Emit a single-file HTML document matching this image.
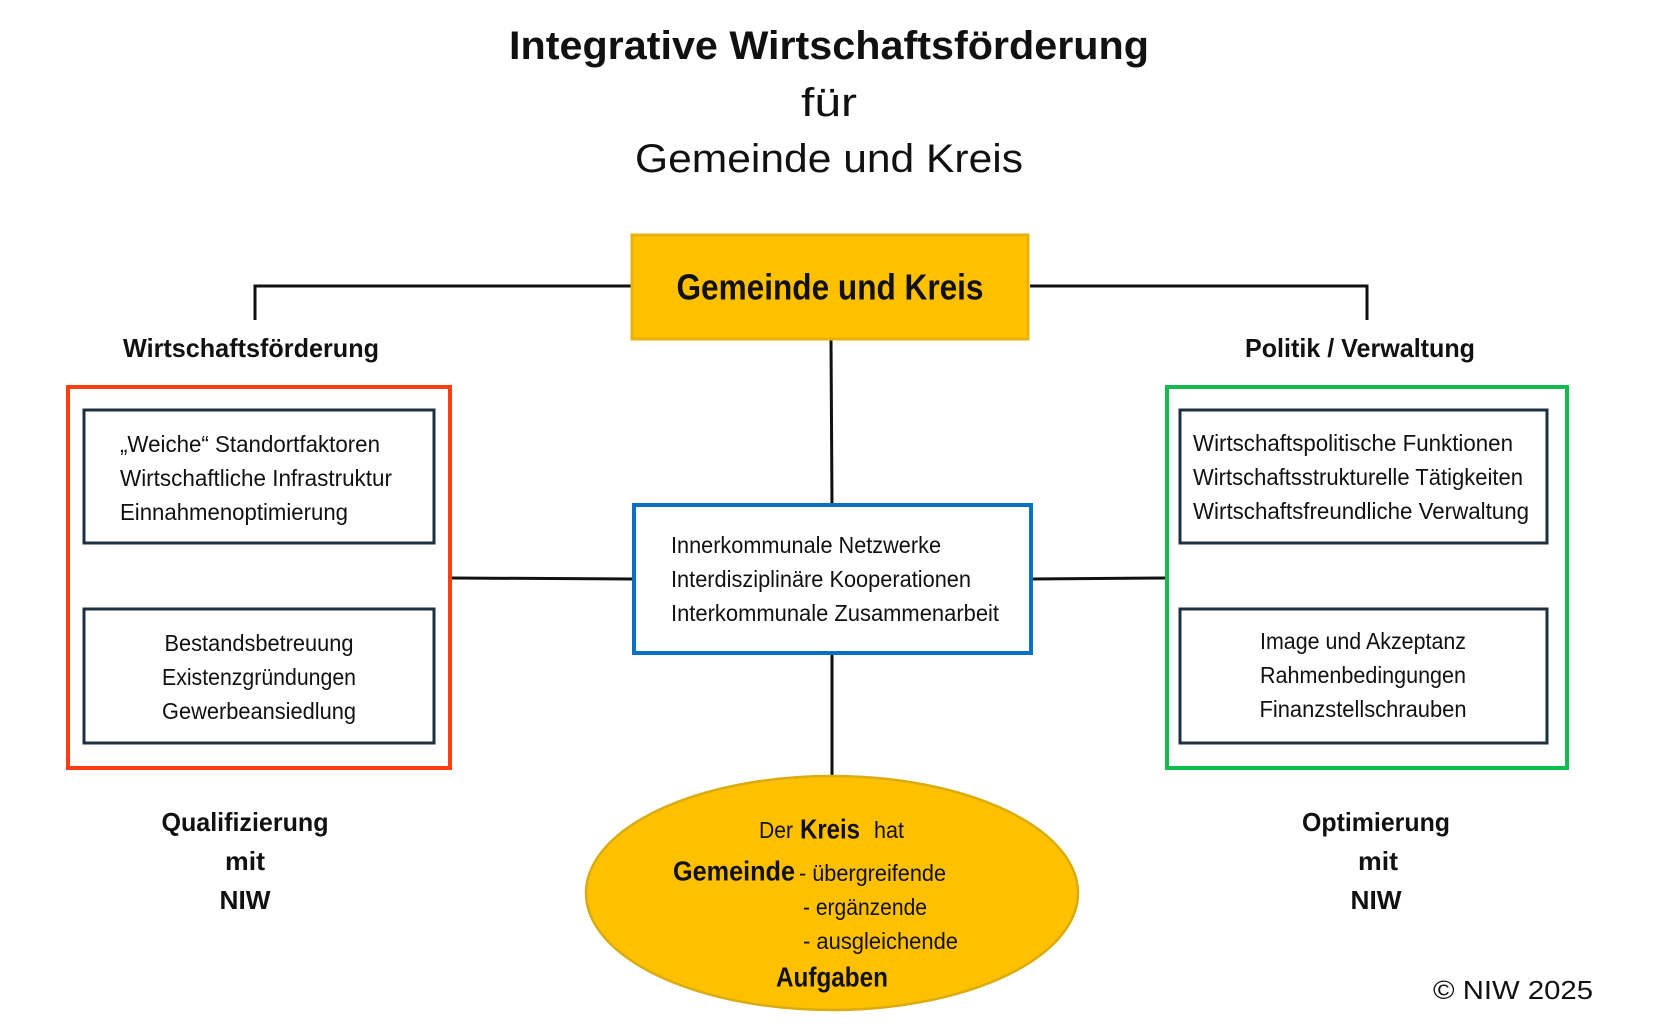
<!DOCTYPE html>
<html><head><meta charset="utf-8"><style>
html,body{margin:0;padding:0;background:#fff;}
svg{display:block;}
text{font-family:"Liberation Sans",sans-serif;fill:#111;}
.b{font-weight:bold;}
</style></head><body>
<svg width="1654" height="1024" viewBox="0 0 1654 1024" xmlns="http://www.w3.org/2000/svg">
<g dominant-baseline="central" text-anchor="middle">
<text x="829" y="46" font-size="40" class="b" textLength="640" lengthAdjust="spacingAndGlyphs">Integrative Wirtschaftsförderung</text>
<text x="829" y="103" font-size="40" textLength="56" lengthAdjust="spacingAndGlyphs">für</text>
<text x="829" y="159" font-size="40" textLength="388" lengthAdjust="spacingAndGlyphs">Gemeinde und Kreis</text>
</g>
<g stroke="#111" stroke-width="3" fill="none">
<polyline points="255,320 255,286 632,286"/>
<polyline points="1030,286 1367,286 1367,320"/>
<line x1="831" y1="339" x2="832" y2="505"/>
<line x1="832" y1="653" x2="832" y2="778"/>
<line x1="451" y1="578" x2="634" y2="579"/>
<line x1="1031" y1="579" x2="1166" y2="578"/>
</g>
<rect x="632" y="235" width="396" height="104" fill="#FFC000" stroke="#E8B20A" stroke-width="3"/>
<text x="830" y="287" font-size="36" class="b" text-anchor="middle" dominant-baseline="central" textLength="307" lengthAdjust="spacingAndGlyphs">Gemeinde und Kreis</text>
<text x="251" y="348" font-size="26" class="b" text-anchor="middle" dominant-baseline="central" textLength="256" lengthAdjust="spacingAndGlyphs">Wirtschaftsförderung</text>
<text x="1360" y="348" font-size="26" class="b" text-anchor="middle" dominant-baseline="central" textLength="230" lengthAdjust="spacingAndGlyphs">Politik / Verwaltung</text>
<rect x="68" y="387" width="382" height="381" fill="none" stroke="#FF3D0F" stroke-width="4"/>
<rect x="84" y="410" width="350" height="133" fill="none" stroke="#1C3040" stroke-width="3"/>
<rect x="84" y="609" width="350" height="134" fill="none" stroke="#1C3040" stroke-width="3"/>
<rect x="1167" y="387" width="400" height="381" fill="none" stroke="#12BA50" stroke-width="4"/>
<rect x="1180" y="410" width="367" height="133" fill="none" stroke="#1C3040" stroke-width="3"/>
<rect x="1180" y="609" width="367" height="134" fill="none" stroke="#1C3040" stroke-width="3"/>
<rect x="634" y="505" width="397" height="148" fill="#fff" stroke="#0A70C4" stroke-width="4"/>
<g font-size="23" dominant-baseline="central">
<text x="120" y="444" textLength="260" lengthAdjust="spacingAndGlyphs">„Weiche“ Standortfaktoren</text>
<text x="120" y="478" textLength="272" lengthAdjust="spacingAndGlyphs">Wirtschaftliche Infrastruktur</text>
<text x="120" y="512" textLength="228" lengthAdjust="spacingAndGlyphs">Einnahmenoptimierung</text>
<g text-anchor="middle">
<text x="259" y="643" textLength="189" lengthAdjust="spacingAndGlyphs">Bestandsbetreuung</text>
<text x="259" y="677" textLength="194" lengthAdjust="spacingAndGlyphs">Existenzgründungen</text>
<text x="259" y="711" textLength="194" lengthAdjust="spacingAndGlyphs">Gewerbeansiedlung</text>
<text x="1363" y="641" textLength="206" lengthAdjust="spacingAndGlyphs">Image und Akzeptanz</text>
<text x="1363" y="675" textLength="206" lengthAdjust="spacingAndGlyphs">Rahmenbedingungen</text>
<text x="1363" y="709" textLength="207" lengthAdjust="spacingAndGlyphs">Finanzstellschrauben</text>
</g>
<text x="671" y="545" textLength="270" lengthAdjust="spacingAndGlyphs">Innerkommunale Netzwerke</text>
<text x="671" y="579" textLength="300" lengthAdjust="spacingAndGlyphs">Interdisziplinäre Kooperationen</text>
<text x="671" y="613" textLength="328" lengthAdjust="spacingAndGlyphs">Interkommunale Zusammenarbeit</text>
<text x="1193" y="443" textLength="320" lengthAdjust="spacingAndGlyphs">Wirtschaftspolitische Funktionen</text>
<text x="1193" y="477" textLength="330" lengthAdjust="spacingAndGlyphs">Wirtschaftsstrukturelle Tätigkeiten</text>
<text x="1193" y="511" textLength="336" lengthAdjust="spacingAndGlyphs">Wirtschaftsfreundliche Verwaltung</text>
</g>
<g font-size="26" class="b" text-anchor="middle" dominant-baseline="central">
<text x="245" y="822" textLength="167" lengthAdjust="spacingAndGlyphs">Qualifizierung</text>
<text x="245" y="861" textLength="40" lengthAdjust="spacingAndGlyphs">mit</text>
<text x="245" y="900" textLength="51" lengthAdjust="spacingAndGlyphs">NIW</text>
<text x="1376" y="822" textLength="148" lengthAdjust="spacingAndGlyphs">Optimierung</text>
<text x="1378" y="861" textLength="40" lengthAdjust="spacingAndGlyphs">mit</text>
<text x="1376" y="900" textLength="51" lengthAdjust="spacingAndGlyphs">NIW</text>
</g>
<text x="1593" y="990" font-size="26" text-anchor="end" dominant-baseline="central" textLength="160" lengthAdjust="spacingAndGlyphs">© NIW 2025</text>
<ellipse cx="832" cy="893" rx="246" ry="117" fill="#FFC000" stroke="#D9AC10" stroke-width="2.5"/>
<g dominant-baseline="central">
<text x="759" y="830" font-size="23" textLength="34" lengthAdjust="spacingAndGlyphs">Der</text>
<text x="800" y="829" font-size="28" class="b" textLength="60" lengthAdjust="spacingAndGlyphs">Kreis</text>
<text x="874" y="830" font-size="23" textLength="30" lengthAdjust="spacingAndGlyphs">hat</text>
<text x="673" y="871" font-size="28" class="b" textLength="122" lengthAdjust="spacingAndGlyphs">Gemeinde</text>
<text x="799" y="873" font-size="23" textLength="147" lengthAdjust="spacingAndGlyphs">- übergreifende</text>
<text x="803" y="907" font-size="23" textLength="124" lengthAdjust="spacingAndGlyphs">- ergänzende</text>
<text x="803" y="941" font-size="23" textLength="155" lengthAdjust="spacingAndGlyphs">- ausgleichende</text>
<text x="776" y="977" font-size="28" class="b" textLength="112" lengthAdjust="spacingAndGlyphs">Aufgaben</text>
</g>
</svg>
</body></html>
